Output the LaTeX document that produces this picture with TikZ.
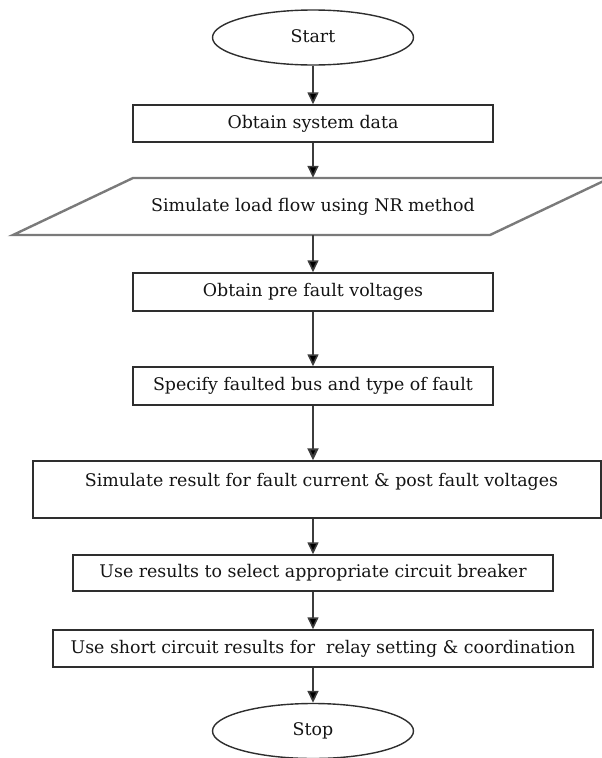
\documentclass[tikz,border=0pt]{standalone}
\usepackage{fontspec}
\setmainfont{DejaVu Serif}
\usetikzlibrary{shapes.geometric,arrows.meta}
\definecolor{edge}{HTML}{2E2E2E}
\definecolor{pgray}{HTML}{7A7A7A}
\definecolor{lgray}{HTML}{3C3C3C}
\begin{document}
\begin{tikzpicture}[x=1pt,y=-1pt,
  every node/.style={font=\fontsize{17.4}{20}\selectfont, text=black!92, inner sep=0pt, text height=12.5pt, text depth=3.5pt},
  term/.style={ellipse, draw=edge, line width=1.4pt, minimum width=201pt, minimum height=55pt},
  stepbox/.style={rectangle, draw=edge, line width=1.5pt},
  flow/.style={draw=lgray, line width=1.6pt, -{Triangle[width=11pt,length=12pt,fill=black]}}]
\useasboundingbox (0,0) rectangle (602,758);
\begin{scope}
\clip (0,0) rectangle (602,758);
\node[term] (start) at (313,37.5) {Start};
\node[stepbox, minimum width=360pt, minimum height=37pt] (b1) at (313,123.5) {Obtain system data};
\node[minimum width=357pt, minimum height=57pt] (sim) at (313,206.5) {Simulate load flow using NR method};
\draw[pgray, line width=2.4pt] (13,235) -- (133,178) -- (610,178) -- (490,235) -- cycle;
\node[stepbox, minimum width=360pt, minimum height=38pt] (b2) at (313,292) {Obtain pre fault voltages};
\node[stepbox, minimum width=360pt, minimum height=38pt] (b3) at (313,386) {Specify faulted bus and type of fault};
\node[stepbox, minimum width=568pt, minimum height=57pt] (b4) at (317,489.5) {};
\node (b4t) at (321.5,482) {Simulate result for fault current \& post fault voltages};
\node[stepbox, minimum width=480pt, minimum height=36pt] (b5) at (313,573) {Use results to select appropriate circuit breaker};
\node[stepbox, minimum width=540pt, minimum height=37pt] (b6) at (323,648.5) {Use short circuit results for\ \ relay setting \& coordination};
\node[term] (stop) at (313,731) {Stop};
\draw[flow] (start) -- (b1);
\draw[flow] (b1) -- (sim);
\draw[flow] (sim) -- (b2);
\draw[flow] (b2) -- (b3);
\draw[flow, line width=2.2pt] (b3.south) -- (b3.south |- b4.north);
\draw[flow] (b3.south |- b4.south) -- (b5.north);
\draw[flow] (b5.south) -- (b5.south |- b6.north);
\draw[flow] (stop.north |- b6.south) -- (stop.north);
\end{scope}
\end{tikzpicture}
\end{document}
